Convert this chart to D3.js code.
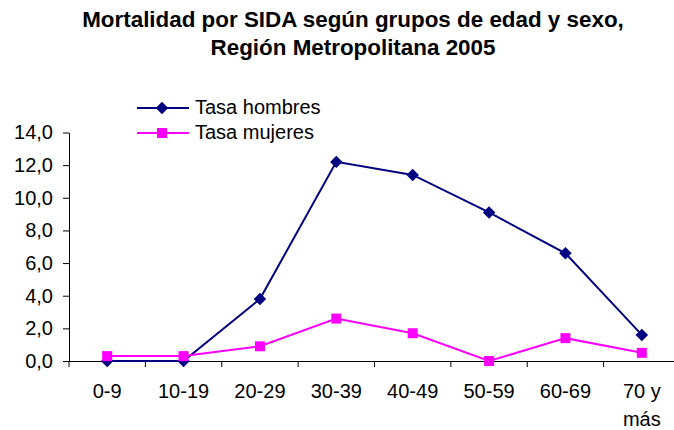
<!DOCTYPE html>
<html>
<head>
<meta charset="utf-8">
<script src="https://d3js.org/d3.v7.min.js"></script>
<style>
  body { margin: 0; background: #fff; }
  text { font-family: "Liberation Sans", Arial, sans-serif; fill: #000; }
</style>
</head>
<body>
<script>
// Chart data
let categories = ["0-9", "10-19", "20-29", "30-39", "40-49", "50-59", "60-69", "70 y más"];
let hombres = [0.0, 0.0, 3.8, 12.2, 11.4, 9.1, 6.6, 1.6];
let mujeres = [0.3, 0.3, 0.9, 2.6, 1.7, 0.0, 1.4, 0.5];
let yTicks = [0, 2, 4, 6, 8, 10, 12, 14];
let titleLines = ["Mortalidad por SIDA según grupos de edad y sexo,", "Región Metropolitana 2005"];
let seriesNames = ["Tasa hombres", "Tasa mujeres"];

let width = 674, height = 430;
let plotLeft = 69, plotRight = 680, plotTop = 132.5, plotBottom = 361;

let svg = d3.select("body").append("svg")
    .attr("width", width)
    .attr("height", height);

// Title
svg.append("g").selectAll("text")
    .data(titleLines)
    .enter().append("text")
    .attr("x", 353)
    .attr("y", (d, i) => 27 + i * 28)
    .attr("text-anchor", "middle")
    .style("font-size", "22.4px")
    .style("font-weight", "bold")
    .text(d => d);

let x = d3.scaleBand().domain(categories).range([plotLeft, plotRight]);
let y = d3.scaleLinear().domain([0, 14]).range([plotBottom, plotTop]);

// Y axis
let yAxis = svg.append("g")
    .attr("transform", "translate(" + plotLeft + ",0)")
    .call(d3.axisLeft(y).tickValues(yTicks).tickSize(6).tickSizeOuter(0)
        .tickFormat(d => d3.format(".1f")(d).replace(".", ",")));
yAxis.select(".domain").attr("stroke", "#000");
yAxis.selectAll(".tick line").attr("stroke", "#000");
yAxis.selectAll(".tick text")
    .attr("x", -16)
    .style("font-size", "20px")
    .style("font-family", "'Liberation Sans', Arial, sans-serif");

// X axis
let xAxis = svg.append("g")
    .attr("transform", "translate(0," + plotBottom + ")")
    .call(d3.axisBottom(x).tickSize(0).tickSizeOuter(0));
xAxis.select(".domain").attr("stroke", "#000");
xAxis.selectAll(".tick text").remove();
// boundary ticks between categories
xAxis.selectAll(".bound")
    .data(categories)
    .enter().append("line")
    .attr("x1", d => x(d)).attr("x2", d => x(d))
    .attr("y1", 0).attr("y2", 6)
    .attr("stroke", "#000");

// X labels (multi-line for "70 y más")
svg.append("g").selectAll("text")
    .data(categories)
    .enter().append("text")
    .attr("x", d => x(d) + x.bandwidth() / 2)
    .attr("y", 398)
    .attr("text-anchor", "middle")
    .style("font-size", "20px")
    .each(function(d) {
        let parts = d === "70 y más" ? ["70 y", "más"] : [d];
        d3.select(this).selectAll("tspan")
            .data(parts)
            .enter().append("tspan")
            .attr("x", x(d) + x.bandwidth() / 2)
            .attr("dy", (p, i) => i === 0 ? 0 : 28)
            .text(p => p);
    });

let line = d3.line()
    .x((d, i) => x(categories[i]) + x.bandwidth() / 2)
    .y(d => y(d));

let navy = "#000080", magenta = "#FF00FF";

// Hombres line
svg.append("path")
    .datum(hombres)
    .attr("fill", "none")
    .attr("stroke", navy)
    .attr("stroke-width", 2)
    .attr("d", line);

// Mujeres line
svg.append("path")
    .datum(mujeres)
    .attr("fill", "none")
    .attr("stroke", magenta)
    .attr("stroke-width", 2)
    .attr("d", line);

// diamond = square turned 45 degrees
let diamond = d3.symbol().type(d3.symbolSquare).size(78);
let square = d3.symbol().type(d3.symbolSquare).size(100);

svg.append("g").selectAll("path")
    .data(hombres)
    .enter().append("path")
    .attr("d", diamond)
    .attr("fill", navy)
    .attr("transform", (d, i) => "translate(" + (x(categories[i]) + x.bandwidth() / 2) + "," + y(d) + ") rotate(45)");

svg.append("g").selectAll("path")
    .data(mujeres)
    .enter().append("path")
    .attr("d", square)
    .attr("fill", magenta)
    .attr("transform", (d, i) => "translate(" + (x(categories[i]) + x.bandwidth() / 2) + "," + y(d) + ")");

// Legend
let legend = svg.append("g");
let colors = [navy, magenta];
let symbols = [diamond, square];
seriesNames.forEach(function(name, i) {
    let ly = 108 + i * 25;
    legend.append("line")
        .attr("x1", 137).attr("x2", 189)
        .attr("y1", ly).attr("y2", ly)
        .attr("stroke", colors[i]).attr("stroke-width", 2);
    legend.append("path")
        .attr("d", symbols[i])
        .attr("fill", colors[i])
        .attr("transform", "translate(162," + ly + ")" + (i === 0 ? " rotate(45)" : ""));
    legend.append("text")
        .attr("x", 195)
        .attr("y", ly + 6)
        .style("font-size", "20px")
        .text(name);
});
</script>
</body>
</html>
